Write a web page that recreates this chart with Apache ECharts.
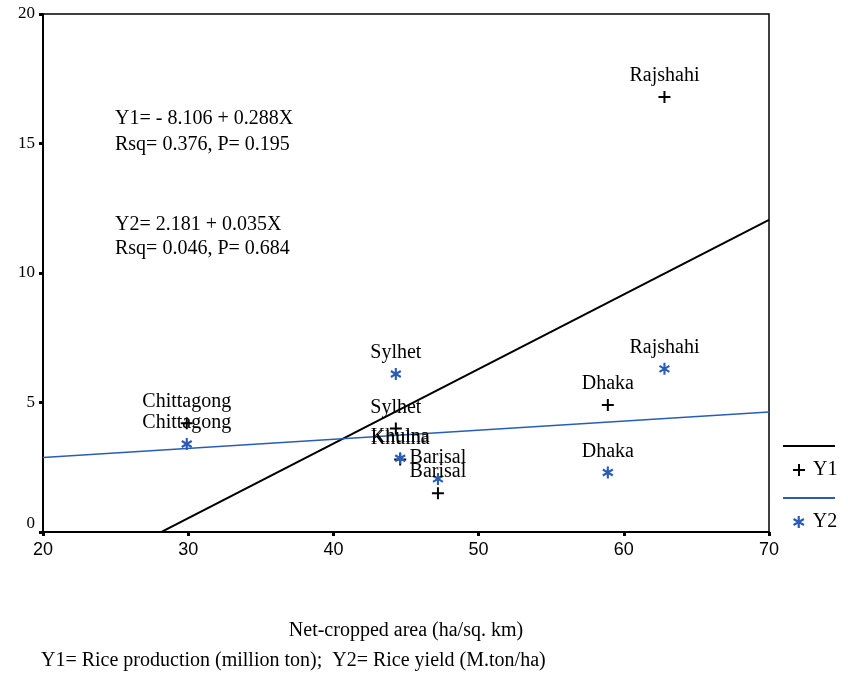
<!DOCTYPE html>
<html>
<head>
<meta charset="utf-8">
<script src="https://cdn.jsdelivr.net/npm/echarts@6/dist/echarts.min.js"></script>
<style>
  html, body { margin: 0; padding: 0; background: #fff; }
  #chart { width: 848px; height: 676px; }
</style>
</head>
<body>
<div id="chart"></div>
<script>
// Districts and their net-cropped area (ha/sq. km)
const districts = ['Rajshahi', 'Dhaka', 'Chittagong', 'Sylhet', 'Khulna', 'Barisal'];
const netCroppedArea = [62.8, 58.9, 29.9, 44.3, 44.6, 47.2];
// Y1: rice production (million ton), Y2: rice yield (M.ton/ha)
const riceProduction = [16.8, 4.9, 4.2, 4.0, 2.8, 1.5];
const riceYield = [6.3, 2.3, 3.4, 6.1, 2.85, 2.05];
// Fitted regression coefficients [intercept, slope]
const fitY1 = [-8.106, 0.288];
const fitY2 = [2.181, 0.035];
// Axis ranges
const xRange = [20, 70];
const yRange = [0, 20];

const SERIF = '"Liberation Serif", "Times New Roman", serif';
const SANS = '"Liberation Sans", Arial, sans-serif';
const BLUE = '#2b5cb5';

const PLUS = 'path://M5,0H7V5H12V7H7V12H5V7H0V5H5Z';
const STAR = 'path://M-1.1,-6L1.1,-6L1.1,6L-1.1,6Z' +
  'M4.646,-3.953L5.746,-2.047L-4.646,3.953L-5.746,2.047Z' +
  'M-5.746,-2.047L-4.646,-3.953L5.746,2.047L4.646,3.953Z';

const points = (ys) => netCroppedArea.map((x, i) => ({ name: districts[i], value: [x, ys[i]] }));
const fitLine = (c) => xRange.map(x => [x, c[0] + c[1] * x]);

const pointLabel = {
  show: true,
  position: 'top',
  distance: 5,
  formatter: '{b}',
  color: '#000',
  opacity: 1,
  textBorderWidth: 0,
  fontFamily: SERIF,
  fontSize: 20
};

const legendText = { fontFamily: SERIF, fontSize: 20, color: '#000', padding: [0, 0, 0, 3] };

const chart = echarts.init(document.getElementById('chart'), null, { renderer: 'canvas' });

chart.setOption({
  animation: false,
  backgroundColor: '#fff',
  grid: {
    left: 43, right: 79, top: 14, bottom: 144,
    show: true, borderColor: '#000', borderWidth: 1.5,
    outerBoundsMode: 'none'
  },
  xAxis: {
    type: 'value',
    min: xRange[0], max: xRange[1], interval: 10,
    name: 'Net-cropped area (ha/sq. km)',
    nameLocation: 'middle',
    nameGap: 89,
    nameTextStyle: { fontFamily: SERIF, fontSize: 20, color: '#000' },
    axisLine: { show: true, lineStyle: { color: '#000', width: 2 } },
    axisTick: { show: true, length: 4, lineStyle: { color: '#000', width: 3 } },
    axisLabel: { margin: 9, fontFamily: SANS, fontSize: 18, color: '#000' },
    splitLine: { show: false }
  },
  yAxis: {
    type: 'value',
    min: yRange[0], max: yRange[1], interval: 5,
    axisLine: { show: true, lineStyle: { color: '#000', width: 2 } },
    axisTick: { show: true, length: 4, lineStyle: { color: '#000', width: 3 } },
    axisLabel: {
      margin: 8, fontFamily: SERIF, fontSize: 17, color: '#000',
      formatter: (v) => v === 0 ? '{zero|0}' : String(v),
      rich: { zero: { fontFamily: SERIF, fontSize: 17, color: '#000', padding: [0, 0, 16, 0] } }
    },
    splitLine: { show: false }
  },
  legend: [
    { data: [{ name: 'Fit Y1', icon: 'rect' }], orient: 'vertical', left: 783, top: 445, padding: 0,
      itemWidth: 52, itemHeight: 2, formatter: () => '', selectedMode: false },
    { data: ['Y1'], orient: 'vertical', left: 793, top: 460, padding: 0,
      itemWidth: 12, itemHeight: 12, selectedMode: false, textStyle: legendText },
    { data: [{ name: 'Fit Y2', icon: 'rect' }], orient: 'vertical', left: 783, top: 497, padding: 0,
      itemWidth: 52, itemHeight: 2, formatter: () => '', selectedMode: false },
    { data: ['Y2'], orient: 'vertical', left: 793, top: 512, padding: 0,
      itemWidth: 12, itemHeight: 12, selectedMode: false, textStyle: legendText }
  ],
  series: [
    {
      name: 'Fit Y1', type: 'line', data: fitLine(fitY1), symbol: 'none', clip: true,
      lineStyle: { color: '#000', width: 2 }, itemStyle: { color: '#000' }, z: 2
    },
    {
      name: 'Fit Y2', type: 'line', data: fitLine(fitY2), symbol: 'none', clip: true,
      lineStyle: { color: BLUE, width: 1.5 }, itemStyle: { color: BLUE }, z: 2
    },
    {
      name: 'Y1', type: 'scatter', data: points(riceProduction),
      symbol: PLUS, symbolSize: 12,
      itemStyle: { color: '#000', opacity: 1 },
      label: pointLabel, z: 3
    },
    {
      name: 'Y2', type: 'scatter', data: points(riceYield),
      symbol: STAR, symbolSize: [11, 12],
      itemStyle: { color: BLUE, opacity: 1 },
      label: pointLabel, z: 3
    }
  ],
  graphic: [
    { type: 'text', left: 115, top: 109, style: { text: 'Y1= - 8.106 + 0.288X', font: '20px ' + SERIF, fill: '#000' } },
    { type: 'text', left: 115, top: 135, style: { text: 'Rsq= 0.376, P= 0.195', font: '20px ' + SERIF, fill: '#000' } },
    { type: 'text', left: 115, top: 215, style: { text: 'Y2= 2.181 + 0.035X', font: '20px ' + SERIF, fill: '#000' } },
    { type: 'text', left: 115, top: 239, style: { text: 'Rsq= 0.046, P= 0.684', font: '20px ' + SERIF, fill: '#000' } },
    { type: 'text', left: 41, top: 651, style: { text: 'Y1= Rice production (million ton);  Y2= Rice yield (M.ton/ha)', font: '20px ' + SERIF, fill: '#000' } }
  ]
});
</script>
</body>
</html>
